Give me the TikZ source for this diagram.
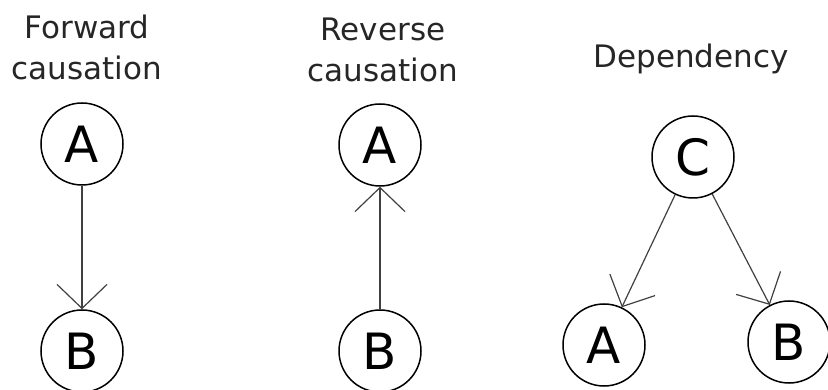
\documentclass[tikz,border=0pt]{standalone}
\usepackage{fontspec}
\setmainfont{DejaVu Sans}
\usetikzlibrary{arrows.meta}
\begin{document}
\begin{tikzpicture}[x=1pt,y=-1pt,
  var/.style={circle,draw=black,line width=1.5pt,minimum size=82pt,inner sep=0pt,
    font=\fontsize{50}{50}\selectfont},
  title/.style={anchor=base,align=center,text=black!85,
    font=\fontsize{31}{41}\selectfont},
  edge/.style={draw=black!75,line width=1.2pt,
    -{Straight Barb[length=24pt,width=50pt,line width=1.2pt]}}]
\useasboundingbox (0,0) rectangle (828,390);
% Forward causation
\node[title] (t1) at (87,80) {Forward\\causation};
\node[var] (fa) at (82,144) {A};
\node[var] (fb) at (82,351) {B};
\draw[edge] (fa) -- (fb);
% Reverse causation
\node[title] (t2) at (383,82) {Reverse\\causation};
\node[var] (ra) at (380,145) {A};
\node[var] (rb) at (380,351) {B};
\draw[edge] (rb) -- (ra);
% Dependency
\node[title] (t3) at (691,68) {Dependency};
\node[var] (dc) at (693,157) {C};
\node[var] (da) at (604,345) {A};
\node[var] (db) at (789,342) {B};
\draw[edge] (dc) -- (da);
\draw[edge] (dc) -- (db);
\end{tikzpicture}
\end{document}
